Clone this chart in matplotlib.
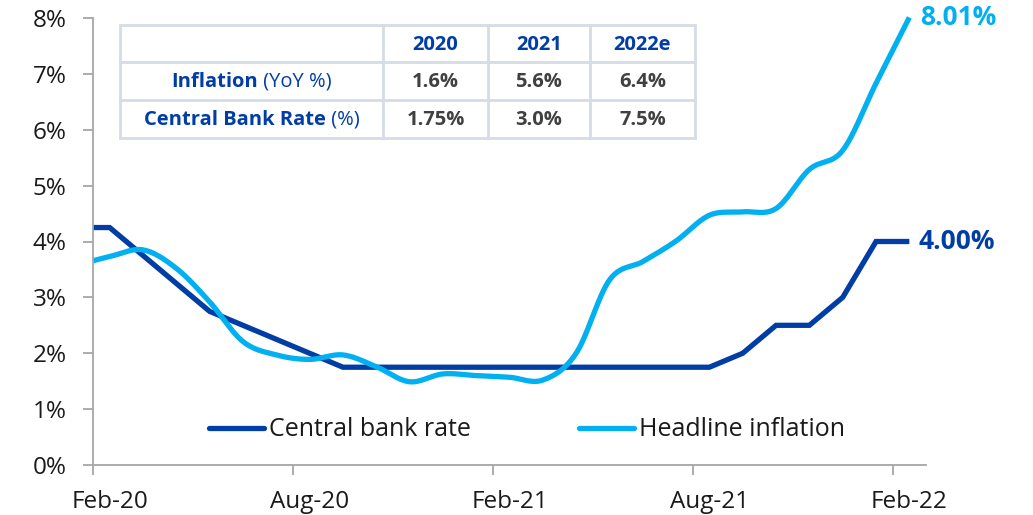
"""Central bank rate vs headline inflation, Feb-20 to Feb-22"""
import numpy as np
import matplotlib
matplotlib.use("Agg")
import matplotlib.pyplot as plt
from matplotlib.patches import Rectangle

plt.rcParams['font.family'] = ['Open Sans', 'DejaVu Sans']

# monthly points, Jan-20 .. Feb-22 (index 0 = Jan-20)
months = ["Jan-20", "Feb-20", "Mar-20", "Apr-20", "May-20", "Jun-20", "Jul-20",
          "Aug-20", "Sep-20", "Oct-20", "Nov-20", "Dec-20", "Jan-21", "Feb-21",
          "Mar-21", "Apr-21", "May-21", "Jun-21", "Jul-21", "Aug-21", "Sep-21",
          "Oct-21", "Nov-21", "Dec-21", "Jan-22", "Feb-22"]
bank_rate = [4.25, 4.25, 3.75, 3.25, 2.75, 2.50, 2.25, 2.00, 1.75, 1.75, 1.75,
             1.75, 1.75, 1.75, 1.75, 1.75, 1.75, 1.75, 1.75, 1.75, 2.00, 2.50,
             2.50, 3.00, 4.00, 4.00]
inflation = [3.58, 3.73, 3.85, 3.52, 2.92, 2.21, 1.97, 1.89, 1.97, 1.76, 1.49,
             1.63, 1.60, 1.57, 1.52, 2.00, 3.31, 3.64, 4.01, 4.47, 4.53, 4.59,
             5.29, 5.63, 6.83, 8.01]
tick_labels = ["Feb-20", "Aug-20", "Feb-21", "Aug-21", "Feb-22"]

table_cols = ["2020", "2021", "2022e"]
table_rows = [("Inflation", " (YoY %)"), ("Central Bank Rate", " (%)")]
table_vals = [["1.6%", "5.6%", "6.4%"], ["1.75%", "3.0%", "7.5%"]]

DARK = "#003DA5"
LIGHT = "#00B0F0"
GREY = "#404040"

W, H = 1033, 515


def px(x, y):
    """pixel coords (from top-left) -> figure fraction"""
    return x / W, 1 - y / H


def smooth(x, y, n=30):
    """Excel-style smoothed line (Catmull-Rom bezier)"""
    x = np.asarray(x, float)
    y = np.asarray(y, float)
    pts = np.column_stack([x, y])
    ext = np.vstack([pts[0], pts, pts[-1]])
    out = []
    t = np.linspace(0, 1, n)[:, None]
    for i in range(len(pts) - 1):
        p0, p1, p2, p3 = ext[i], ext[i + 1], ext[i + 2], ext[i + 3]
        c1 = p1 + (p2 - p0) / 6
        c2 = p2 - (p3 - p1) / 6
        seg = ((1 - t) ** 3) * p1 + 3 * ((1 - t) ** 2) * t * c1 \
            + 3 * (1 - t) * t ** 2 * c2 + t ** 3 * p2
        out.append(seg if i == 0 else seg[1:])
    out = np.vstack(out)
    return out[:, 0], out[:, 1]


fig = plt.figure(figsize=(W / 100, H / 100), dpi=100)
l, b = px(93, 465)
r, t = px(926, 18)
ax = fig.add_axes([l, b, r - l, t - b])

xpos = np.arange(len(months)) - 0.5
clip = Rectangle((0, -0.2), 1, 1.4, transform=ax.transAxes,
                 facecolor="none", edgecolor="none")

ln1, = ax.plot(xpos, np.array(bank_rate) / 100, color=DARK, lw=3.8,
               solid_joinstyle="miter", solid_capstyle="butt",
               label="Central bank rate")
sx, sy = smooth(xpos, inflation)
ln2, = ax.plot(sx, sy / 100, color=LIGHT, lw=3.8, solid_capstyle="butt",
               label="Headline inflation")
for ln in (ln1, ln2):
    ln.set_clip_path(clip)

ax.set_xlim(0, 25)
ax.set_ylim(0, 0.08)
# tick marks every 6 months, labels centred on the month
ax.set_xticks([0, 6, 12, 18, 24])
ax.set_xticklabels([])
ax.set_xticks([0.5, 6.5, 12.5, 18.5, 24.5], tick_labels, minor=True)
ax.tick_params(axis="x", which="minor", length=0, pad=18,
               labelsize=17.5, labelcolor="#1a1a1a")
ax.set_yticks(np.arange(0, 0.081, 0.01))
ax.yaxis.set_major_formatter(matplotlib.ticker.PercentFormatter(1.0, decimals=0))
for s in ("top", "right"):
    ax.spines[s].set_visible(False)
for s in ("left", "bottom"):
    ax.spines[s].set_color("#a6a6a6")
    ax.spines[s].set_linewidth(1.3)
ax.tick_params(axis="both", which="major", colors="#a6a6a6", width=1.3,
               length=7, labelcolor="#1a1a1a", labelsize=17.5)
ax.tick_params(axis="y", pad=12)

# end labels
ax.text(24.5 + 0.33, inflation[-1] / 100, f"{inflation[-1]:.2f}%", color=LIGHT,
        fontsize=19, fontweight="bold", va="center", ha="left", clip_on=False)
ax.text(24.5 + 0.28, bank_rate[-1] / 100, f"{bank_rate[-1]:.2f}%", color=DARK,
        fontsize=19, fontweight="bold", va="center", ha="left", clip_on=False)

leg = ax.legend(loc="center", bbox_to_anchor=px(527, 430), ncol=2,
                bbox_transform=fig.transFigure, frameon=False, fontsize=18,
                handlelength=2.2, handletextpad=0.2, columnspacing=4.3)
for h in leg.legend_handles:
    h.set_solid_capstyle("round")
for txt in leg.get_texts():
    txt.set_color("#1a1a1a")

# summary table
col_x = [120, 383, 488, 590, 695]
row_y = [25, 62, 100, 138]
bx, by = px(col_x[0], row_y[-1])
bw = (col_x[-1] - col_x[0]) / W
bh = (row_y[-1] - row_y[0]) / H
fig.patches.append(Rectangle((bx, by), bw, bh, transform=fig.transFigure,
                             facecolor="white", edgecolor="#d6dce5", lw=2,
                             zorder=5))
for xv in col_x[1:-1]:
    fig.add_artist(plt.Line2D([xv / W] * 2, [1 - row_y[0] / H, 1 - row_y[-1] / H],
                              color="#d6dce5", lw=2, zorder=6))
for yv in row_y[1:-1]:
    fig.add_artist(plt.Line2D([col_x[0] / W, col_x[-1] / W], [1 - yv / H] * 2,
                              color="#d6dce5", lw=2, zorder=6))

tsize = 14.5
for j, name in enumerate(table_cols):
    cx = (col_x[j + 1] + col_x[j + 2]) / 2
    cy = (row_y[0] + row_y[1]) / 2 + 1
    fig.text(*px(cx, cy), name, ha="center", va="center", color=DARK,
             fontsize=tsize, fontweight="bold", zorder=7)

renderer = fig.canvas.get_renderer()
for i, (bold, normal) in enumerate(table_rows):
    cy = (row_y[i + 1] + row_y[i + 2]) / 2 + 1
    cx = (col_x[0] + col_x[1]) / 2
    t1 = fig.text(0, 0, bold, ha="left", va="center", color=DARK,
                  fontsize=tsize, fontweight="bold", zorder=7)
    t2 = fig.text(0, 0, normal, ha="left", va="center", color=DARK,
                  fontsize=tsize, zorder=7)
    w1 = t1.get_window_extent(renderer).width
    w2 = t2.get_window_extent(renderer).width
    x0 = cx - (w1 + w2) / 2
    t1.set_position(px(x0, cy))
    t2.set_position(px(x0 + w1, cy))
    for j, val in enumerate(table_vals[i]):
        vx = (col_x[j + 1] + col_x[j + 2]) / 2
        fig.text(*px(vx, cy), val, ha="center", va="center", color=GREY,
                 fontsize=tsize, fontweight="bold", zorder=7)

fig.savefig("out.png", dpi=100)
